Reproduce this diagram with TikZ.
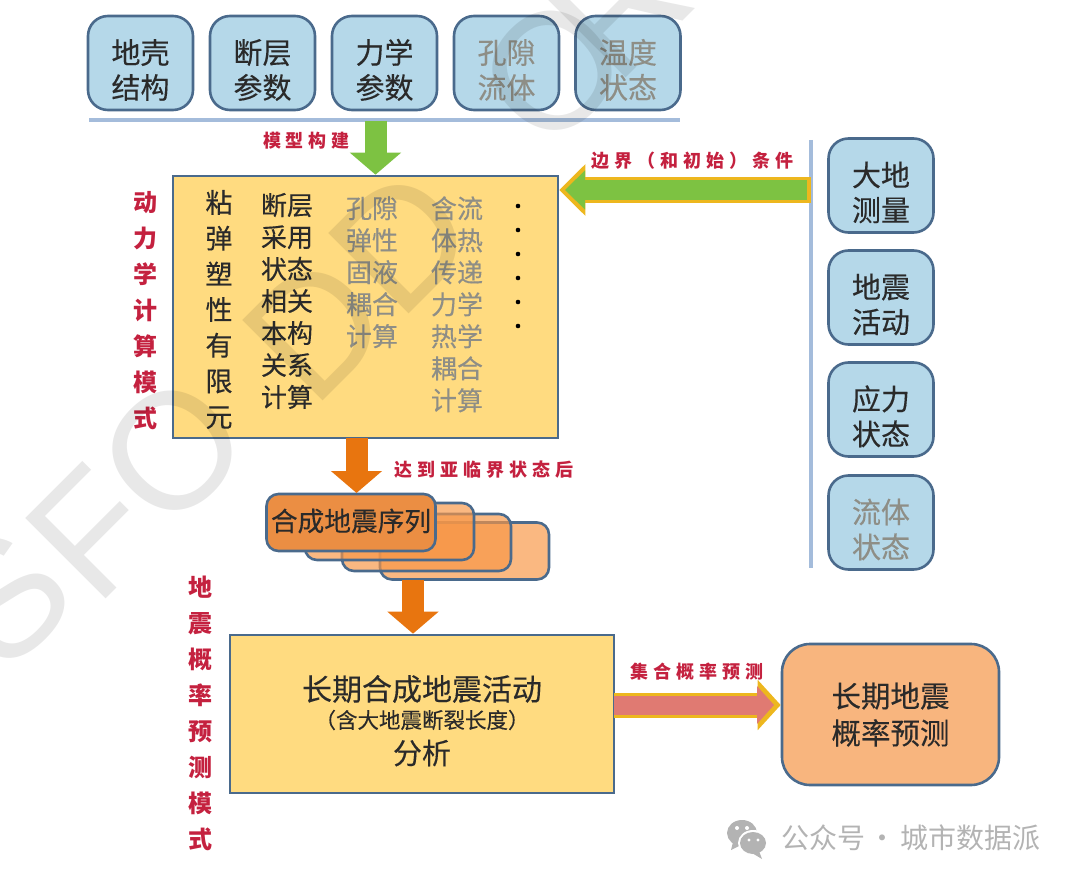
\documentclass[tikz,border=0pt]{standalone}
\usepackage{fontspec}
\setmainfont{Noto Sans CJK SC}[FakeBold=0.25]
\newfontfamily\plainf{Noto Sans CJK SC}
\newfontfamily\wmfont{Liberation Sans}
\usetikzlibrary{arrows.meta,calc}
\def\u{0.75pt}
\newcommand\pxf[2]{\fontsize{\dimexpr#1pt*3/4\relax}{\dimexpr#2pt*3/4\relax}\selectfont}
\newcommand\kk{\hspace{3.75pt}}
\definecolor{edge}{HTML}{4A6A8C}
\definecolor{bluefill}{HTML}{B5D8E9}
\definecolor{yel}{HTML}{FFDB80}
\definecolor{inkdark}{HTML}{2A2A2A}
\definecolor{inkgray}{HTML}{8E8E86}
\definecolor{redlab}{HTML}{C4213F}
\definecolor{ora}{HTML}{E8750F}
\definecolor{seqc}{HTML}{F79646}
\definecolor{resc}{HTML}{F8B57E}
\definecolor{grn}{HTML}{7DC242}
\definecolor{gold}{HTML}{EDB71E}
\definecolor{pink}{HTML}{E07A72}
\definecolor{rulec}{HTML}{A4BCDB}
\definecolor{wechat}{HTML}{B3B3B3}
\tikzset{
  bluebox/.style={draw=edge,line width=2.6*\u,fill=bluefill,rounded corners=20*\u,
    minimum width=105*\u,minimum height=94*\u,inner sep=0pt,align=center,text=inkdark,
    text height=71*\u,text depth=0pt,font=\pxf{29}{35}},
  grayink/.style={text=inkgray},
  yellowbox/.style={draw=edge,line width=2.6*\u,fill=yel,inner sep=0pt},
  seqbox/.style={draw=edge,line width=2.6*\u,fill=seqc,fill opacity=0.68,rounded corners=12*\u,
    minimum width=169*\u,minimum height=57*\u,inner sep=0pt},
  coltext/.style={align=center,inner sep=0pt,text=inkdark,font=\pxf{26}{32}},
  redlabel/.style={text=redlab,inner sep=0pt,font=\plainf\bfseries\pxf{18}{24}},
  redcol/.style={text=redlab,inner sep=0pt,align=center,font=\plainf\bfseries\pxf{24}{36}},
  wm/.style={text=black,text opacity=0.09,inner sep=0pt,anchor=base west,rotate=45,
    font=\wmfont\fontsize{124pt}{124pt}\selectfont},
  flatarrow/.style={line width=22*\u,draw=#1,-{Triangle[width=50*\u,length=22*\u,fill=#1,color=#1]}},
}
\begin{document}
\begin{tikzpicture}[x=0.75pt,y=-0.75pt]
\useasboundingbox (0,0) rectangle (1080,880);
\clip (0,0) rectangle (1080,880);
% top parameter boxes
\node[bluebox] (t1) at (140.5,63) {地壳\\结构};
\node[bluebox] (t2) at (262.5,63) {断层\\参数};
\node[bluebox] (t3) at (384.5,63) {力学\\参数};
\node[bluebox,grayink] (t4) at (506.5,63) {孔隙\\流体};
\node[bluebox,grayink] (t5) at (628,63) {温度\\状态};
\coordinate (rl) at (89,120);
\coordinate (rr) at (680,120);
\draw[rulec,line width=3.5*\u] (rl) -- (rr);
% right boxes
\node[bluebox] (r1) at (881,185.5) {大地\\测量};
\node[bluebox] (r2) at (881,297.5) {地震\\活动};
\node[bluebox] (r3) at (881,409.5) {应力\\状态};
\node[bluebox,grayink] (r4) at (881,522.5) {流体\\状态};
\coordinate (vt) at (811,140);
\coordinate (vb) at (811,568);
\draw[rulec,line width=4*\u] (vt) -- (vb);
% dynamics box
\node[yellowbox,minimum width=385*\u,minimum height=262*\u] (dyn) at (365.5,307) {};
\node[coltext,font=\pxf{27}{35.7}] (c1) at (219,309.5) {粘\\弹\\塑\\性\\有\\限\\元};
\node[coltext] (c2) at (287,301) {断层\\采用\\状态\\相关\\本构\\关系\\计算};
\node[coltext,text=inkgray,anchor=north] (c3) at (372,196) {孔隙\\弹性\\固液\\耦合\\计算};
\node[coltext,text=inkgray,anchor=north] (c4) at (457,196) {含流\\体热\\传递\\力学\\热学\\耦合\\计算};
\foreach \yy in {206,230,254,278,302,326}
  \fill[black] (518,\yy) circle (2.3);
% labels
\node[redlabel] (l1) at (306.5,141) {模\kk 型\kk 构\kk 建};
\node[redlabel] (l2) at (692.5,161) {边\kk 界\kk （\kk 和\kk 初\kk 始\kk ）\kk 条\kk 件};
\node[redlabel] (l3) at (484,470) {达\kk 到\kk 亚\kk 临\kk 界\kk 状\kk 态\kk 后};
\node[redlabel] (l4) at (697,672) {集\kk 合\kk 概\kk 率\kk 预\kk 测};
\node[redcol] (m1) at (145,311) {动\\力\\学\\计\\算\\模\\式};
\node[redcol] (m2) at (200,713) {地\\震\\概\\率\\预\\测\\模\\式};
% sequence stack
\node[seqbox] (s4) at (464.5,551) {};
\node[seqbox] (s3) at (426.5,542.5) {};
\node[seqbox] (s2) at (389.5,531.5) {};
\node[seqbox,fill opacity=1,fill=seqc!95!black] (s1) at (351,522.5) {};
\node[coltext,font=\pxf{26.7}{32}] (st) at (351,521) {合成地震序列};
% analysis box
\node[yellowbox,minimum width=384*\u,minimum height=158*\u] (ana) at (422,714) {};
\node[coltext,font=\pxf{30}{35}] (a1) at (422,689) {长期合成地震活动};
\node[coltext,font=\pxf{21.5}{24}] (a2) at (422,720) {（含大地震断裂长度）};
\node[coltext,font=\pxf{29}{35}] (a3) at (422,753) {分析};
% result box
\node[draw=edge,line width=2.6*\u,fill=resc,rounded corners=28*\u,minimum width=217*\u,minimum height=141*\u,inner sep=0pt,align=center,text=inkdark,font=\pxf{29.5}{37}] (res) at (890.5,714.5) {长期地震\\概率预测};
% arrows
\coordinate (ga) at (375.5,121);
\draw[flatarrow=grn] (ga) -- (ga |- dyn.north);
\coordinate (oa) at (356.5,438);
\coordinate (ob) at (356.5,493);
\draw[flatarrow=ora] (oa) -- (ob);
\coordinate (pa) at (413,580);
\draw[flatarrow=ora] (pa) -- (pa |- ana.north);
% boundary arrow
\coordinate (ba) at (811,190);
\draw[line width=26*\u,draw=gold,-{Triangle[width=50*\u,length=26*\u,fill=gold,color=gold]}] (ba) -- (ba -| dyn.east);
\coordinate (bi) at (807,190);
\coordinate (bj) at (565,190);
\draw[line width=20*\u,draw=grn,-{Triangle[width=38*\u,length=20*\u,fill=grn,color=grn]}] (bi) -- (bj);
% forecast arrow
\coordinate (fa) at (614,705);
\coordinate (fj) at (774,705);
\draw[line width=25*\u,draw=gold,-{Triangle[width=49*\u,length=23*\u,fill=gold,color=gold]}] (fa) -- (fa -| res.west);
\draw[line width=19*\u,draw=pink,-{Triangle[width=37*\u,length=17*\u,fill=pink,color=pink]}] (fa) -- (fj);
% wechat mark
\fill[wechat] (742,833) ellipse (15 and 13);
\fill[wechat] (733,842) -- (731,850) -- (741,845) -- cycle;
\fill[white] (753,843) ellipse (15 and 13);
\fill[wechat] (753,843) ellipse (13 and 11);
\fill[wechat] (759,851) -- (762,859) -- (752,853) -- cycle;
\fill[white] (737,828) circle (2) (747,828) circle (2) (749,840) circle (1.7) (758,840) circle (1.7);
\node[inner sep=0pt,text=wechat,font=\plainf\pxf{28}{32}] (wx) at (911,838) {公众号\hspace{3pt}·\hspace{3pt}城市数据派};
% watermark
\node[wm] (w1) at (5,678) {S};
\node[wm] (w2) at (96,609) {F};
\node[wm] (w3) at (167,537) {O};
\node[wm] (w4) at (313,411) {D};
\node[wm] (w5) at (399,324) {D};
\node[wm] (w6) at (547,157) {O};
\node[wm] (w7) at (616,88) {R};
\end{tikzpicture}
\end{document}
